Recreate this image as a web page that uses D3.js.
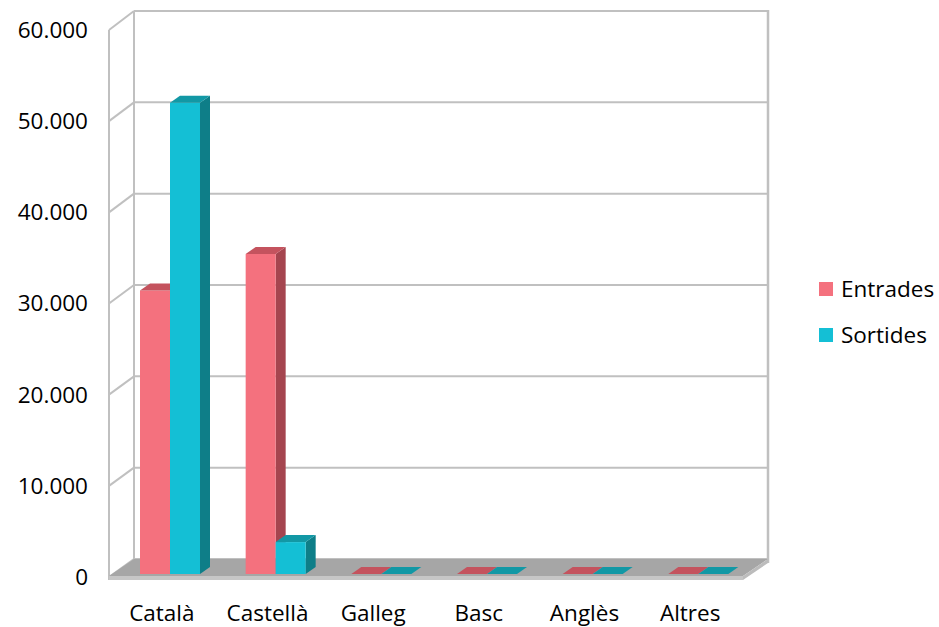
<!DOCTYPE html>
<html>
<head>
<meta charset="utf-8">
<script src="https://cdn.jsdelivr.net/npm/d3@7"></script>
<style>
html,body{margin:0;padding:0;background:#fff;}
svg{display:block;}
text{font-family:"Open Sans",sans-serif;fill:#000;}
</style>
</head>
<body>
<svg id="chart" width="939" height="627"></svg>
<script>
const categories = ["Català", "Castellà", "Galleg", "Basc", "Anglès", "Altres"];
const seriesNames = ["Entrades", "Sortides"];
const entrades = [31100, 35100, 0, 0, 0, 0];
const sortides = [51700, 3500, 0, 0, 0, 0];
const tickValues = [0, 10000, 20000, 30000, 40000, 50000, 60000];
const tickLabels = ["0", "10.000", "20.000", "30.000", "40.000", "50.000", "60.000"];

const seriesValues = [entrades, sortides];
const colors = {
  Entrades: {front: "#f4717e", side: "#a5454f", top: "#c4535e"},
  Sortides: {front: "#14bfd5", side: "#0e7e88", top: "#1298a5"}
};

const svg = d3.select("#chart");
const depthX = 25, depthY = -18;
const frontLeft = 109, frontRight = 743;
const yFront = d3.scaleLinear().domain([0, 60000]).range([577, 30]);
const yBack = d3.scaleLinear().domain([0, 60000]).range([577 + depthY, 30 + depthY - 1]);
const yBar = d3.scaleLinear().domain([0, 60000]).range([574, 27]);
const x = d3.scaleBand().domain(categories).range([frontLeft, frontRight]);
const xInner = d3.scaleBand().domain(seriesNames).range([0, 60]);
const barOffset = 31;
const barDX = 10, barDY = -7;
const gridColor = "#c0c0c0";
const fontSize = "22.5px";

// walls & gridlines
const g = svg.append("g");
tickValues.forEach(v => {
  g.append("line").attr("x1", frontLeft + depthX).attr("x2", frontRight + depthX)
    .attr("y1", yBack(v)).attr("y2", yBack(v))
    .attr("stroke", gridColor).attr("stroke-width", 2);
  g.append("line").attr("x1", frontLeft).attr("x2", frontLeft + depthX)
    .attr("y1", yFront(v)).attr("y2", yBack(v))
    .attr("stroke", gridColor).attr("stroke-width", 2);
});
g.append("line").attr("x1", frontLeft + depthX).attr("x2", frontLeft + depthX)
  .attr("y1", yBack(60000)).attr("y2", yBack(0)).attr("stroke", gridColor).attr("stroke-width", 2);
g.append("line").attr("x1", frontRight + depthX).attr("x2", frontRight + depthX)
  .attr("y1", yBack(60000) - 1).attr("y2", yBack(0) + 4).attr("stroke", gridColor).attr("stroke-width", 2.5);
g.append("line").attr("x1", frontLeft).attr("x2", frontLeft)
  .attr("y1", yFront(60000)).attr("y2", yFront(0) + 3).attr("stroke", gridColor).attr("stroke-width", 2);

// floor
const fy = yFront(0) - 1, by = yBack(0);
g.append("polygon")
  .attr("points", [[frontLeft, fy], [frontRight, fy], [frontRight + depthX, by], [frontLeft + depthX, by]].map(p => p.join(",")).join(" "))
  .attr("fill", "#a6a6a6");
g.append("polygon")
  .attr("points", [[frontLeft, fy], [frontRight, fy], [frontRight, fy + 4], [frontLeft, fy + 4]].map(p => p.join(",")).join(" "))
  .attr("fill", "#c6c6c6");
g.append("polygon")
  .attr("points", [[frontRight, fy], [frontRight + depthX, by], [frontRight + depthX, by + 4], [frontRight, fy + 4]].map(p => p.join(",")).join(" "))
  .attr("fill", "#bcbcbc");

// bars
const bars = svg.append("g");
categories.forEach((c, i) => {
  seriesNames.forEach((s, j) => {
    const v = seriesValues[j][i];
    const x0 = x(c) + barOffset + xInner(s);
    const w = xInner.bandwidth();
    const y0 = yBar(0), y1 = yBar(v);
    const col = colors[s];
    bars.append("polygon")
      .attr("points", [[x0 + w, y1], [x0 + w + barDX, y1 + barDY], [x0 + w + barDX, y0 + barDY], [x0 + w, y0]].map(p => p.join(",")).join(" "))
      .attr("fill", col.side);
    bars.append("rect").attr("x", x0).attr("y", y1).attr("width", w).attr("height", y0 - y1)
      .attr("fill", col.front);
    bars.append("polygon")
      .attr("points", [[x0, y1], [x0 + w, y1], [x0 + w + barDX, y1 + barDY], [x0 + barDX, y1 + barDY]].map(p => p.join(",")).join(" "))
      .attr("fill", col.top);
  });
});

// y tick labels
const ty = svg.append("g");
tickValues.forEach((v, i) => {
  ty.append("text").attr("x", 88).attr("y", yFront(v)).attr("dy", "0.35em")
    .attr("text-anchor", "end").style("font-size", fontSize).text(tickLabels[i]);
});

// x labels
const tx = svg.append("g");
categories.forEach(c => {
  tx.append("text").attr("x", x(c) + x.bandwidth() / 2).attr("y", 621)
    .attr("text-anchor", "middle").style("font-size", fontSize).text(c);
});

// legend
const leg = svg.append("g");
seriesNames.forEach((s, j) => {
  const yy = 282 + j * 46;
  leg.append("rect").attr("x", 819).attr("y", yy).attr("width", 14).attr("height", 14).attr("fill", colors[s].front);
  leg.append("text").attr("x", 841).attr("y", yy + 7).attr("dy", "0.35em").style("font-size", fontSize).text(s);
});
</script>
</body>
</html>
